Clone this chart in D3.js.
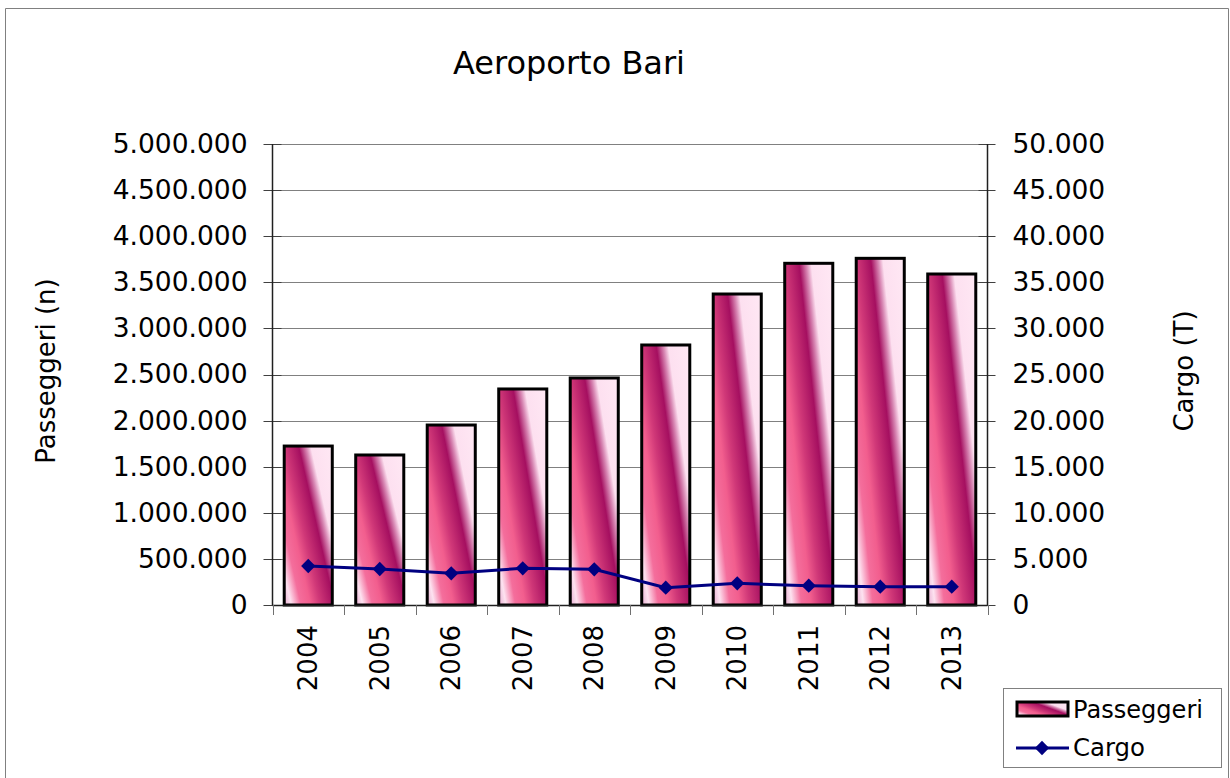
<!DOCTYPE html>
<html><head><meta charset="utf-8">
<script src="https://cdn.jsdelivr.net/npm/d3@7"></script>
<style>body{margin:0;background:#fff}svg{display:block}</style></head>
<body>
<script>
const years = ["2004","2005","2006","2007","2008","2009","2010","2011","2012","2013"];
const passeggeri = [1724000,1627000,1952000,2343000,2462000,2820000,3373000,3706000,3760000,3590000];
const cargo = [4230,3905,3440,3980,3870,1880,2350,2090,1990,1990];
const leftTicks = [0,500000,1000000,1500000,2000000,2500000,3000000,3500000,4000000,4500000,5000000];
const rightTicks = [0,5000,10000,15000,20000,25000,30000,35000,40000,45000,50000];
const title = "Aeroporto Bari";
const leftTitle = "Passeggeri (n)";
const rightTitle = "Cargo (T)";
const seriesNames = ["Passeggeri","Cargo"];

const W = 1230, H = 778;
const L = 272.5, R = 987.5, T = 144, B = 605;
const FONT = "'DejaVu Sans', Verdana, sans-serif";

const svg = d3.select("body").append("svg").attr("width", W).attr("height", H)
  .style("font-family", FONT);

const loc = d3.formatLocale({decimal: ",", thousands: ".", grouping: [3], currency: ["", ""]});
const fmt = v => v === 0 ? "0" : loc.format(",d")(v);

// gradient
const defs = svg.append("defs");
const grad = defs.append("linearGradient").attr("id", "barGrad")
  .attr("x1", 0).attr("y1", 1).attr("x2", 1.12).attr("y2", 0.16);
[[0,"#e6acd0"],[0.086,"#fde2f0"],[0.2,"#f46e9c"],[0.314,"#f25e8e"],[0.429,"#d03878"],
 [0.6,"#a50f60"],[0.686,"#d888b4"],[0.743,"#fde0f0"],[1,"#ffe8f4"]].forEach(([o,c]) =>
  grad.append("stop").attr("offset", o).attr("stop-color", c));

// outer border
svg.append("path").attr("d", `M5.5,${H+5} V8.5 H1228.5 V${H+5}`)
  .attr("fill", "none").attr("stroke", "#808080").attr("stroke-width", 1);

const x = d3.scaleBand().domain(years).range([L, R]).padding(0);
const yL = d3.scaleLinear().domain([0, 5000000]).range([B, T]);
const yR = d3.scaleLinear().domain([0, 50000]).range([B, T]);

// gridlines
svg.append("g").selectAll("line").data(leftTicks.filter(d => d > 0)).join("line")
  .attr("x1", L).attr("x2", R)
  .attr("y1", d => Math.round(yL(d)) + 0.5).attr("y2", d => Math.round(yL(d)) + 0.5)
  .attr("stroke", "#808080").attr("stroke-width", 1);

// left axis
const gL = svg.append("g").attr("transform", `translate(${L},0)`)
  .call(d3.axisLeft(yL).tickValues(leftTicks).tickFormat(fmt).tickSize(0).tickPadding(25));
gL.select(".domain").remove();
gL.selectAll("text").attr("font-size", 26.5).attr("fill", "#000").style("font-family", FONT);
svg.append("g").selectAll("line").data(leftTicks).join("line")
  .attr("x1", L - 9).attr("x2", L + 9)
  .attr("y1", d => Math.round(yL(d)) + 0.5).attr("y2", d => Math.round(yL(d)) + 0.5)
  .attr("stroke", "#404040");
svg.append("line").attr("x1", L).attr("x2", L).attr("y1", T).attr("y2", B)
  .attr("stroke", "#202020").attr("stroke-width", 1.5);

// right axis
const gR = svg.append("g").attr("transform", `translate(${R},0)`)
  .call(d3.axisRight(yR).tickValues(rightTicks).tickFormat(fmt).tickSize(0).tickPadding(25));
gR.select(".domain").remove();
gR.selectAll("text").attr("font-size", 26.5).attr("fill", "#000").style("font-family", FONT);
svg.append("g").selectAll("line").data(rightTicks).join("line")
  .attr("x1", R - 9).attr("x2", R + 8)
  .attr("y1", d => Math.round(yR(d)) + 0.5).attr("y2", d => Math.round(yR(d)) + 0.5)
  .attr("stroke", "#404040");
svg.append("line").attr("x1", R).attr("x2", R).attr("y1", T).attr("y2", B)
  .attr("stroke", "#202020").attr("stroke-width", 1.5);

// bars
const bw = x.bandwidth() * 0.672;
svg.append("g").selectAll("rect").data(years).join("rect")
  .attr("x", (d) => x(d) + (x.bandwidth() - bw) / 2)
  .attr("width", bw)
  .attr("y", (d, i) => yL(passeggeri[i]))
  .attr("height", (d, i) => B - yL(passeggeri[i]))
  .attr("fill", "url(#barGrad)").attr("stroke", "#000").attr("stroke-width", 3);

// x axis baseline and ticks
svg.append("line").attr("x1", L).attr("x2", R).attr("y1", B + 0.5).attr("y2", B + 0.5)
  .attr("stroke", "#202020").attr("stroke-width", 1.5);
const bounds = years.map(d => x(d)).concat([R]);
svg.append("g").selectAll("line").data(bounds).join("line")
  .attr("x1", d => Math.round(d) + 0.5).attr("x2", d => Math.round(d) + 0.5)
  .attr("y1", B).attr("y2", B + 10).attr("stroke", "#707070");

// x labels
svg.append("g").selectAll("text").data(years).join("text")
  .attr("transform", d => `translate(${x(d) + x.bandwidth() / 2 + 9},${625}) rotate(-90)`)
  .attr("text-anchor", "end").attr("font-size", 26).text(d => d);

// cargo line
const line = d3.line().x((d, i) => x(years[i]) + x.bandwidth() / 2).y(d => yR(d));
svg.append("path").datum(cargo).attr("d", line)
  .attr("fill", "none").attr("stroke", "#000080").attr("stroke-width", 3);
const diamond = d3.symbol().type(d3.symbolDiamond2).size(130);
svg.append("g").selectAll("path").data(cargo).join("path")
  .attr("transform", (d, i) => `translate(${x(years[i]) + x.bandwidth() / 2},${yR(d)})`)
  .attr("d", diamond).attr("fill", "#000080");

// titles
svg.append("text").attr("x", 569).attr("y", 74).attr("text-anchor", "middle")
  .attr("font-size", 32).text(title);
svg.append("text").attr("transform", `translate(55,371) rotate(-90)`)
  .attr("text-anchor", "middle").attr("font-size", 26).text(leftTitle);
svg.append("text").attr("transform", `translate(1193,371) rotate(-90)`)
  .attr("text-anchor", "middle").attr("font-size", 26).text(rightTitle);

// legend
const lg = svg.append("g");
lg.append("rect").attr("x", 1003.5).attr("y", 688.5).attr("width", 218).attr("height", 79)
  .attr("fill", "#fff").attr("stroke", "#808080");
lg.append("rect").attr("x", 1017).attr("y", 702).attr("width", 51).attr("height", 14)
  .attr("fill", "url(#barGrad)").attr("stroke", "#000").attr("stroke-width", 3);
lg.append("text").attr("x", 1073).attr("y", 718).attr("font-size", 24)
  .attr("textLength", 130).attr("lengthAdjust", "spacingAndGlyphs").text(seriesNames[0]);
lg.append("line").attr("x1", 1016).attr("x2", 1069).attr("y1", 748).attr("y2", 748)
  .attr("stroke", "#000080").attr("stroke-width", 3);
lg.append("path").attr("transform", "translate(1042,748)").attr("d", diamond).attr("fill", "#000080");
lg.append("text").attr("x", 1073).attr("y", 756).attr("font-size", 24)
  .attr("textLength", 72).attr("lengthAdjust", "spacingAndGlyphs").text(seriesNames[1]);
</script>
</body></html>
